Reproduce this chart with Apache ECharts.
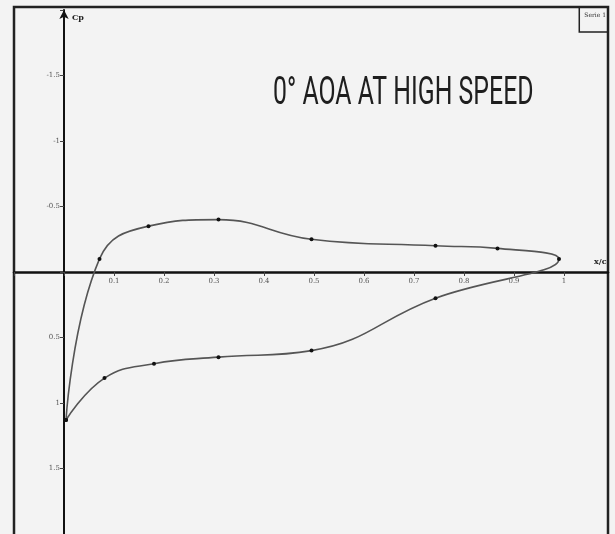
<!DOCTYPE html>
<html>
<head>
<meta charset="utf-8">
<script src="https://cdn.jsdelivr.net/npm/echarts@6/dist/echarts.min.js"></script>
<style>
html,body{margin:0;padding:0;background:#f3f3f3;}
#c{width:615px;height:534px;}
</style>
</head>
<body>
<div id="c"></div>
<script>
// Data (x/c, Cp), traversed leading edge -> upper -> trailing edge -> lower -> leading edge
const upperX = [0.004, 0.071, 0.169, 0.309, 0.495, 0.743, 0.867, 0.99];
const upperCp = [1.13, -0.10, -0.35, -0.40, -0.25, -0.20, -0.18, -0.10];
const lowerX = [0.743, 0.495, 0.309, 0.18, 0.081, 0.004];
const lowerCp = [0.20, 0.60, 0.65, 0.70, 0.81, 1.13];
const seriesName = 'Serie 1';
const titleText = '0° AOA AT HIGH SPEED';
const xTickLabels = ['0.1','0.2','0.3','0.4','0.5','0.6','0.7','0.8','0.9','1'];
const yTickLabels = {'-1.5':'-1.5','-1':'-1','-0.5':'-0.5','0.5':'0.5','1':'1','1.5':'1.5'};

const data = [];
upperX.forEach((x, i) => data.push([x, upperCp[i]]));
lowerX.forEach((x, i) => data.push([x, lowerCp[i]]));

const chart = echarts.init(document.getElementById('c'));
chart.setOption({
  backgroundColor: '#f3f3f3',
  animation: false,
  legend: {
    data: [seriesName],
    right: 7, top: 7,
    icon: 'rect', itemWidth: 0, itemHeight: 0,
    borderColor: '#222', borderWidth: 1.5,
    padding: [5, 2, 14, 0],
    textStyle: {fontSize: 6, color: '#333', fontFamily: 'DejaVu Serif'}
  },
  graphic: [{
    type: 'rect', silent: true,
    shape: {x: 14, y: 7, width: 594, height: 540},
    style: {fill: 'none', stroke: '#222', lineWidth: 2.5}
  }, {
    type: 'text', silent: true,
    x: 273, y: 75, scaleX: 0.637,
    style: {text: titleText, fontFamily: 'Roboto', fontSize: 39, fill: '#1e1e1e', verticalAlign: 'top'}
  }],
  grid: {left: 14, top: 10, width: 594, height: 524, outerBoundsMode: 'none', containLabel: false},
  xAxis: {
    type: 'value', min: -0.1, max: 1.088, interval: 0.1,
    position: 'bottom', offset: -262,
    name: 'x/c', nameLocation: 'end', nameGap: -14,
    nameTextStyle: {fontSize: 8, fontFamily: 'DejaVu Serif', fontWeight: 'bold', color: '#222', verticalAlign: 'bottom', padding: [0,0,6,0]},
    axisLine: {onZero: false, lineStyle: {color: '#111', width: 2.5}},
    axisTick: {show: true, length: 4, lineStyle: {color: '#444'}},
    axisLabel: {
      fontSize: 7, color: '#555', fontFamily: 'DejaVu Serif', margin: 6,
      showMaxLabel: false,
      formatter: v => { const r = Math.round(v * 10); return (r >= 1 && r <= 10 && Math.abs(v * 10 - r) < 1e-6) ? xTickLabels[r - 1] : ''; }
    },
    splitLine: {show: false}
  },
  yAxis: {
    type: 'value', min: -2, max: 2, interval: 0.5, inverse: true,
    position: 'left', offset: -50,
    name: 'Cp', nameLocation: 'start', nameGap: -12,
    nameTextStyle: {fontSize: 8, fontFamily: 'DejaVu Serif', fontWeight: 'bold', color: '#222', align: 'left', padding: [0,0,0,8]},
    axisLine: {onZero: false, symbol: ['none', 'arrow'], symbolSize: [7, 9], lineStyle: {color: '#111', width: 2}},
    axisTick: {show: true, length: 4, lineStyle: {color: '#444'}},
    axisLabel: {
      fontSize: 7, color: '#555', fontFamily: 'DejaVu Serif', margin: 4,
      formatter: v => { const k = String(Math.round(v * 10) / 10); return yTickLabels[k] || ''; }
    },
    splitLine: {show: false}
  },
  series: [{
    name: seriesName,
    type: 'line',
    data: data,
    smooth: 0.45,
    symbol: 'circle', symbolSize: 4,
    itemStyle: {color: '#111'},
    lineStyle: {color: '#555', width: 1.6}
  }]
});
</script>
</body>
</html>
